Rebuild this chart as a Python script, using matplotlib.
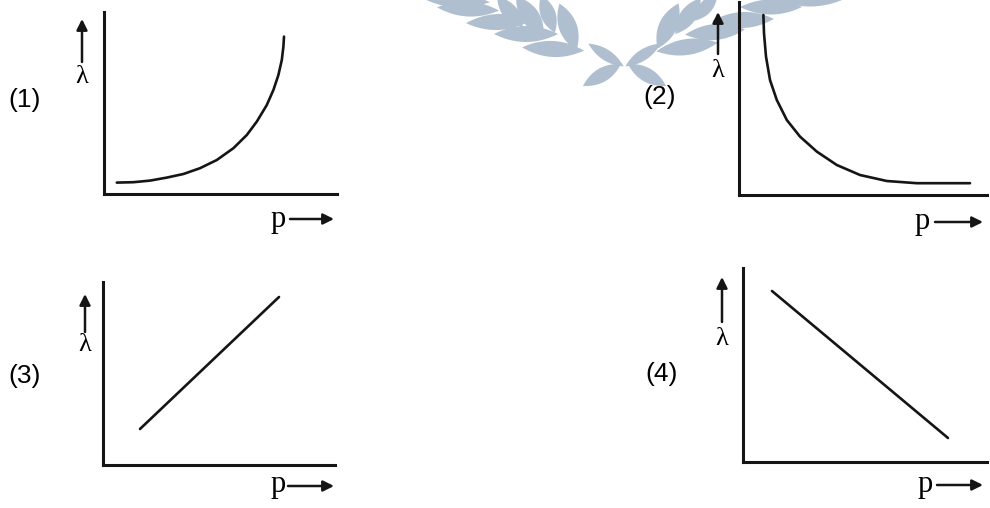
import matplotlib
matplotlib.use("Agg")
import numpy as np
import matplotlib.pyplot as plt
from matplotlib.patches import Polygon

# ---------------- data (arbitrary units) ----------------
# (1) lambda rises steeply with p
p1 = [0.64, 1.47, 2.30, 3.14, 3.97, 4.80, 5.64, 6.47, 7.14, 7.64, 8.14, 8.47, 8.72, 8.89, 8.97, 9.00]
lam1 = [0.57, 0.59, 0.67, 0.82, 1.00, 1.29, 1.70, 2.29, 2.95, 3.62, 4.45, 5.20, 5.95, 6.70, 7.37, 7.87]
# (2) lambda falls hyperbolically with p
p2 = [1.22, 1.25, 1.35, 1.55, 1.89, 2.39, 3.05, 3.89, 4.89, 6.05, 7.39, 8.89, 10.39, 11.55]
lam2 = [9.00, 8.09, 6.92, 5.75, 4.75, 3.75, 2.92, 2.17, 1.50, 1.00, 0.70, 0.59, 0.59, 0.59]
# (3) straight line rising
p3 = [1.85, 8.80]
lam3 = [1.80, 8.40]
# (4) straight line falling
p4 = [1.45, 10.25]
lam4 = [8.55, 1.20]

option_labels = ["(1)", "(2)", "(3)", "(4)"]
y_label = "λ"
x_label = "p"

# ---------------- figure ----------------
W, H = 990, 508
fig = plt.figure(figsize=(W / 100, H / 100), dpi=100)
fig.patch.set_facecolor("white")

bg = fig.add_axes([0, 0, 1, 1], zorder=0)
bg.set_xlim(0, W)
bg.set_ylim(H, 0)
bg.axis("off")

# watermark (laurel), drawn as lens-shaped leaves
wm = "#afbfd0"


def leaf(cx, cy, L, w, a):
    t = np.linspace(-1, 1, 40)
    top = np.column_stack([t * L / 2, (w / 2) * (1 - t ** 2)])
    bot = np.column_stack([t[::-1] * L / 2, -(w / 2) * (1 - t[::-1] ** 2)])
    pts = np.vstack([top, bot])
    th = np.deg2rad(a)
    R = np.array([[np.cos(th), -np.sin(th)], [np.sin(th), np.cos(th)]])
    pts = pts @ R.T + np.array([cx, cy])
    bg.add_patch(Polygon(pts, closed=True, facecolor=wm, edgecolor="none", zorder=1))


leaves = [
    (458, 1, 64, 13, 2), (468, 9, 62, 15, 3), (498, 22, 64, 16, -2), (526, 34, 64, 16, 0),
    (553, 49, 62, 16, 3),
    (510, 12, 40, 15, 50), (530, 16, 48, 18, 55), (548, 14, 40, 15, 70), (568, 27, 50, 18, 70),
    (606, 55, 42, 11, 33), (643, 55, 42, 11, -33), (602, 75, 44, 14, -30), (647, 75, 44, 14, 30),
    (687, 47, 62, 16, -8), (715, 32, 60, 16, -5), (743, 20, 62, 16, -2), (771, 7, 62, 15, 0),
    (810, 0, 64, 13, 0),
    (668, 26, 50, 18, -65), (688, 16, 44, 16, -55), (706, 7, 36, 13, -50),
]
for lf in leaves:
    leaf(*lf)

# ---------------- panels ----------------
# (left, top, right, bottom) of each plot box in pixels
boxes = [(104, 12, 337, 194), (739, 2, 987, 195), (103, 282, 335, 465), (743, 268, 987, 462)]
series = [(p1, lam1), (p2, lam2), (p3, lam3), (p4, lam4)]

for (l, t, r, b), (px, py) in zip(boxes, series):
    ax = fig.add_axes([l / W, 1 - b / H, (r - l) / W, (b - t) / H], zorder=2)
    ax.patch.set_alpha(0)
    ax.set_xlim(0, (r - l) / 20)
    ax.set_ylim(0, (b - t) / 20)
    for s in ("top", "right"):
        ax.spines[s].set_visible(False)
    for s in ("left", "bottom"):
        ax.spines[s].set_linewidth(2.2)
        ax.spines[s].set_color("#151515")
    ax.set_xticks([])
    ax.set_yticks([])
    ax.plot(px, py, color="#151515", lw=1.9, solid_capstyle="round",
            solid_joinstyle="round", clip_on=False)

# option numbers
num_pos = [(25, 100), (660, 97), (25, 376), (662, 374)]
for lab, (x, y) in zip(option_labels, num_pos):
    bg.text(x, y, lab, fontsize=19, family="Liberation Sans", ha="center", va="center", zorder=3)

# lambda labels with up arrows: (x, arrow tail y, arrow tip y, label centre y)
lam_pos = [(82, 62, 19, 77), (718, 54, 12, 71), (85, 332, 294, 345), (722, 322, 277, 339)]
for (x, y0, y1, yl) in lam_pos:
    bg.annotate("", xy=(x, y1), xytext=(x, y0),
                arrowprops=dict(arrowstyle="-|>", color="#151515", lw=1.8, mutation_scale=16,
                                shrinkA=0, shrinkB=0), zorder=3)
    bg.text(x, yl, y_label, fontsize=19, family="Liberation Serif", ha="center", va="center", zorder=3)

# p labels with right arrows: (p centre x, baseline y, arrow x0, arrow x1, arrow y)
p_pos = [(278, 227, 290, 334, 219), (922, 229, 935, 983, 222), (278, 492, 288, 334, 486), (925, 492, 937, 983, 485)]
for (x, yb, ax0, ax1, ay) in p_pos:
    bg.text(x, yb, x_label, fontsize=22, family="Liberation Serif", ha="center", va="baseline", zorder=3)
    bg.annotate("", xy=(ax1, ay), xytext=(ax0, ay),
                arrowprops=dict(arrowstyle="-|>", color="#151515", lw=1.8, mutation_scale=16,
                                shrinkA=0, shrinkB=0), zorder=3)

fig.savefig("out.png", dpi=100, facecolor="white")
